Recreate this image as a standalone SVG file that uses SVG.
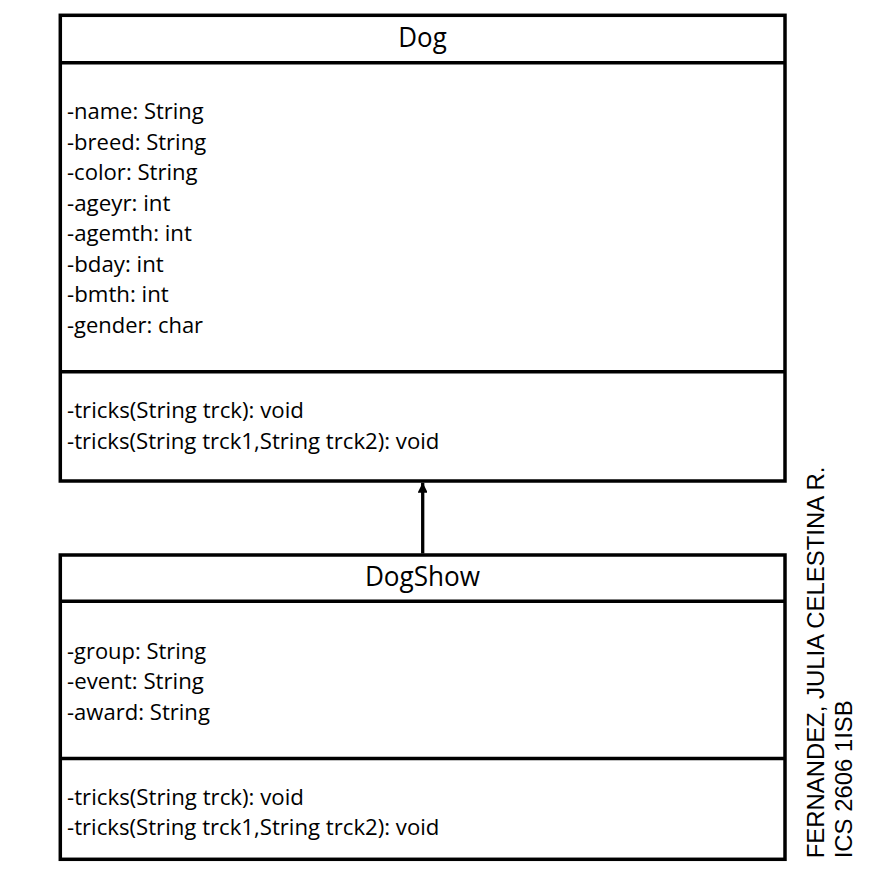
<svg xmlns="http://www.w3.org/2000/svg" width="878" height="884" viewBox="0 0 878 884">
<style>
  .box { fill: #ffffff; stroke: #000000; stroke-width: 3.5; }
  .div { stroke: #000000; stroke-width: 3.5; }
  .title { font-family: "Open Sans", "Noto Sans", sans-serif; font-size: 26.5px; fill: #000; text-anchor: middle; }
  .txt { font-family: "Open Sans", "Noto Sans", sans-serif; font-size: 22px; fill: #000; }
  .side { font-family: "Liberation Sans", Arial, sans-serif; font-size: 23.9px; fill: #000; }
  .conn { stroke: #000; stroke-width: 3.3; fill: none; }
</style>
<defs>
  <marker id="arrow" markerWidth="10" markerHeight="9" refX="10" refY="5" orient="auto" markerUnits="userSpaceOnUse">
    <path d="M0,0 L10,5 L0,10 Z" fill="#000"/>
  </marker>
</defs>
<rect width="878" height="884" fill="#ffffff"/>

<g id="connectors">
  <line class="conn" x1="422.7" y1="553.5" x2="422.7" y2="482.7" marker-end="url(#arrow)"/>
</g>

<g id="Dog">
  <rect class="box" x="60.3" y="15.3" width="724.7" height="465.7"/>
  <line class="div" x1="60.3" y1="62.7" x2="785" y2="62.7"/>
  <line class="div" x1="60.3" y1="371.7" x2="785" y2="371.7"/>
  <text class="title" x="422.5" y="47" textLength="48.4" lengthAdjust="spacingAndGlyphs">Dog</text>
  <text class="txt" x="67" y="119" textLength="136.7" lengthAdjust="spacingAndGlyphs">-name: String</text>
  <text class="txt" x="67" y="149.5" textLength="139.1" lengthAdjust="spacingAndGlyphs">-breed: String</text>
  <text class="txt" x="67" y="180" textLength="130.6" lengthAdjust="spacingAndGlyphs">-color: String</text>
  <text class="txt" x="67" y="210.5" textLength="103.5" lengthAdjust="spacingAndGlyphs">-ageyr: int</text>
  <text class="txt" x="67" y="241" textLength="124.9" lengthAdjust="spacingAndGlyphs">-agemth: int</text>
  <text class="txt" x="67" y="271.5" textLength="96.8" lengthAdjust="spacingAndGlyphs">-bday: int</text>
  <text class="txt" x="67" y="302" textLength="101.8" lengthAdjust="spacingAndGlyphs">-bmth: int</text>
  <text class="txt" x="67" y="332.5" textLength="136.1" lengthAdjust="spacingAndGlyphs">-gender: char</text>
  <text class="txt" x="67" y="418.3" textLength="236.9" lengthAdjust="spacingAndGlyphs">-tricks(String trck): void</text>
  <text class="txt" x="67" y="448.8" textLength="372.4" lengthAdjust="spacingAndGlyphs">-tricks(String trck1,String trck2): void</text>
</g>

<g id="DogShow">
  <rect class="box" x="60.3" y="555" width="724.7" height="304.3"/>
  <line class="div" x1="60.3" y1="601.3" x2="785" y2="601.3"/>
  <line class="div" x1="60.3" y1="758.5" x2="785" y2="758.5"/>
  <text class="title" x="422.5" y="586" textLength="115.2" lengthAdjust="spacingAndGlyphs">DogShow</text>
  <text class="txt" x="67" y="659" textLength="139.1" lengthAdjust="spacingAndGlyphs">-group: String</text>
  <text class="txt" x="67" y="689.3" textLength="136.9" lengthAdjust="spacingAndGlyphs">-event: String</text>
  <text class="txt" x="67" y="719.5" textLength="142.9" lengthAdjust="spacingAndGlyphs">-award: String</text>
  <text class="txt" x="67" y="805" textLength="236.9" lengthAdjust="spacingAndGlyphs">-tricks(String trck): void</text>
  <text class="txt" x="67" y="835.3" textLength="372.4" lengthAdjust="spacingAndGlyphs">-tricks(String trck1,String trck2): void</text>
</g>

<g id="author">
  <text class="side" transform="translate(824,858.3) rotate(-90)" x="0" y="0">FERNANDEZ, JULIA CELESTINA R.</text>
  <text class="side" transform="translate(851.7,858.3) rotate(-90)" x="0" y="0">ICS 2606 1ISB</text>
</g>
</svg>
